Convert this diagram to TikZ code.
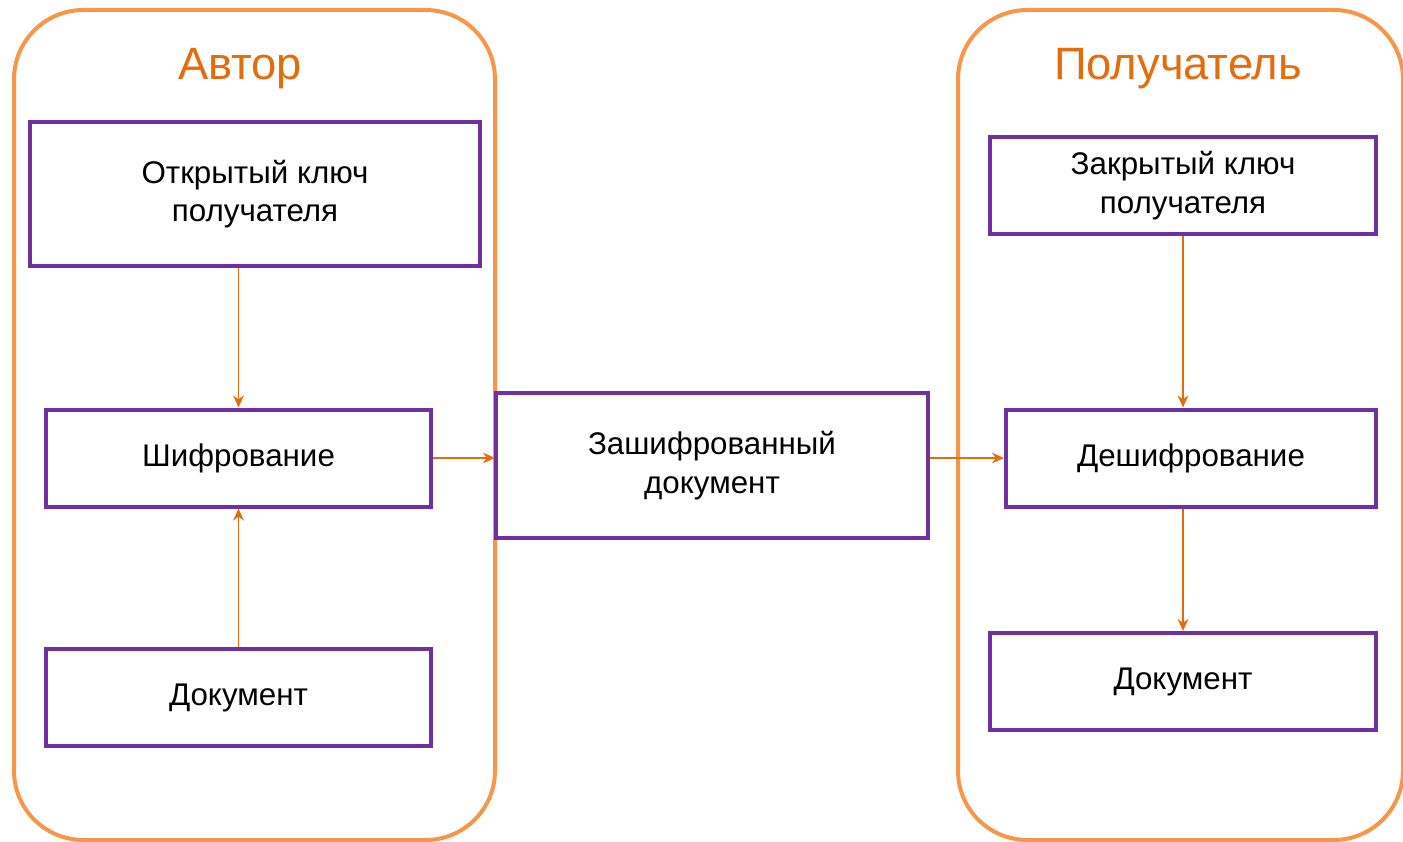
\documentclass[tikz,border=0pt]{standalone}
\usepackage{fontspec}
\setmainfont{Liberation Sans}
\usetikzlibrary{arrows.meta}

\definecolor{boxviolet}{RGB}{112,48,160}
\definecolor{sideorange}{RGB}{247,150,70}
\definecolor{darkorange}{RGB}{228,108,10}

\tikzset{
  stage/.style={draw=boxviolet, line width=3pt, align=center, inner sep=0pt, font=\fontsize{23.5}{29}\selectfont},
  side/.style={draw=sideorange, line width=3pt, rounded corners=52pt},
  title/.style={text=darkorange, inner sep=0pt, font=\fontsize{34}{40}\selectfont},
  flow/.style={draw=darkorange, line width=1.4pt, -{Stealth[length=9pt,width=8pt]}}
}

\begin{document}
\begin{tikzpicture}[x=0.75pt,y=0.75pt,yscale=-1,xscale=1]
\useasboundingbox (0,0) rectangle (1403,842);

%Shape: Rounded Rect (author)
\draw [side] (14,10) rectangle (495,840);
%Shape: Rounded Rect (receiver)
\draw [side] (958,10) rectangle (1403,840);

% Text Node
\node [title] (author) at (240,69) {Автор};
% Text Node
\node [title] (receiver) at (1178,69) {Получатель};

% Boxes
\node [stage, minimum width=450*0.75pt, minimum height=144*0.75pt] (pubkey) at (255,194) {Открытый ключ\\получателя};
\node [stage, minimum width=385*0.75pt, minimum height=97*0.75pt] (encrypt) at (238.5,458) {Шифрование};
\node [stage, minimum width=385*0.75pt, minimum height=97*0.75pt] (docin) at (238.5,697.5) {Документ};
\node [stage, minimum width=432*0.75pt, minimum height=145*0.75pt] (cipher) at (712,465.5) {Зашифрованный\\документ};
\node [stage, minimum width=386*0.75pt, minimum height=97*0.75pt] (privkey) at (1183,185.5) {Закрытый ключ\\получателя};
\node [stage, minimum width=370*0.75pt, minimum height=97*0.75pt] (decrypt) at (1191,458) {Дешифрование};
\node [stage, minimum width=386*0.75pt, minimum height=97*0.75pt] (docout) at (1183,681.5) {Документ};

% Arrows
\coordinate (sideedge) at (495,458);
\draw [flow] (pubkey.south -| encrypt) -- (encrypt.north);
\draw [flow] (docin.north) -- (encrypt.south);
\draw [flow] (encrypt.east) -- (sideedge);
\draw [flow] (cipher.east |- encrypt) -- (decrypt.west);
\draw [flow] (privkey.south) -- (privkey.south |- decrypt.north);
\draw [flow] (docout.north |- decrypt.south) -- (docout.north);
\end{tikzpicture}
\end{document}
